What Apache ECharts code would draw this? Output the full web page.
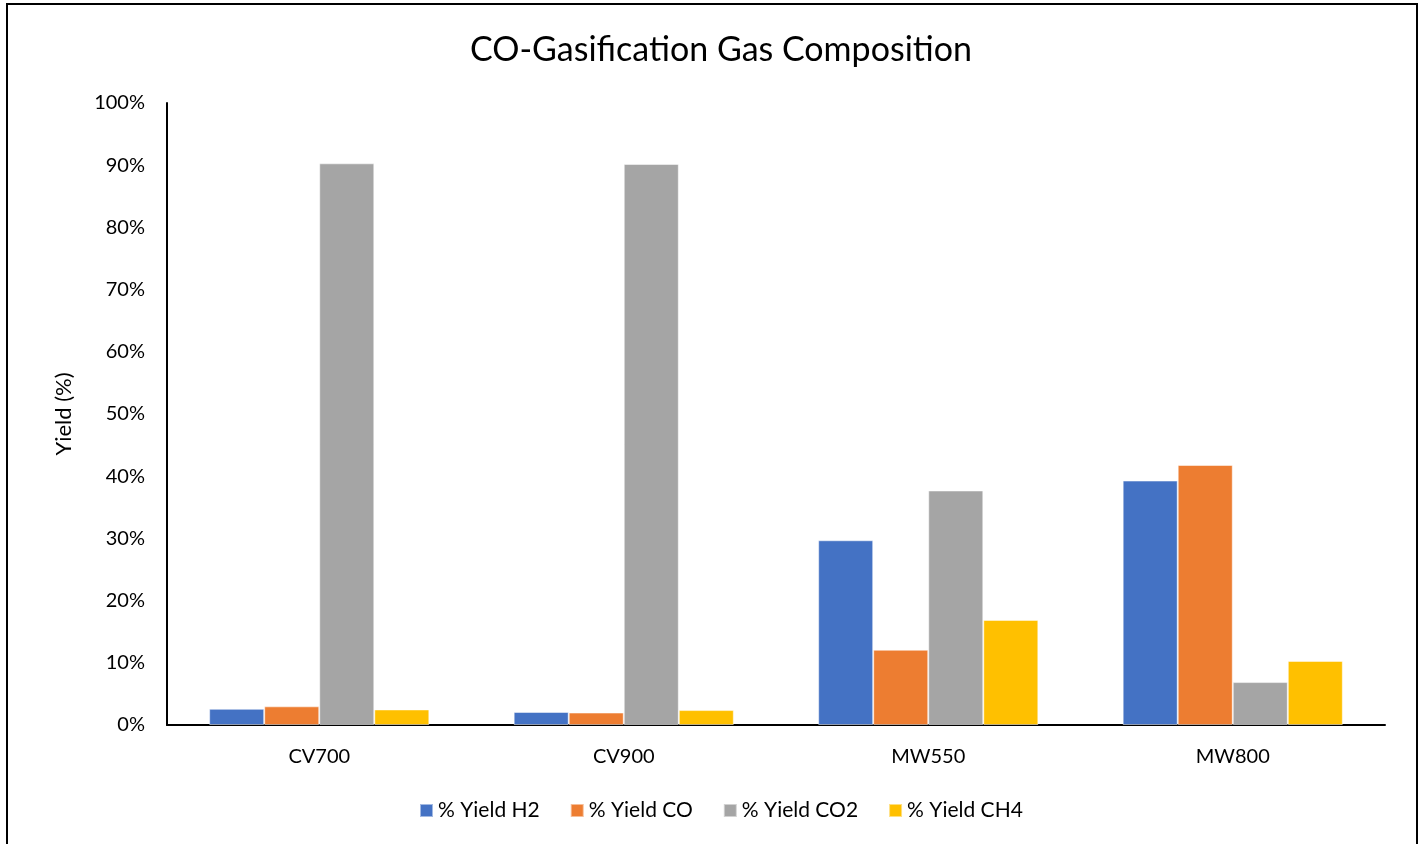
<!DOCTYPE html>
<html>
<head>
<meta charset="utf-8">
<script src="https://cdn.jsdelivr.net/npm/echarts@6/dist/echarts.min.js"></script>
<style>
  html, body { margin: 0; padding: 0; background: #fff; overflow: hidden; }
  #frame {
    position: absolute; left: 6px; top: 3px; width: 1408px; height: 900px;
    border: 2px solid #000; pointer-events: none;
  }
  #chart { width: 1419px; height: 844px; }
</style>
</head>
<body>
<div id="chart"></div>
<div id="frame"></div>
<script>
// categories and series (percent)
const categories = ["CV700", "CV900", "MW550", "MW800"];
const yieldH2 = [2.6, 2.1, 29.7, 39.3];
const yieldCO = [3.0, 2.0, 12.1, 41.8];
const yieldCO2 = [90.3, 90.2, 37.7, 6.9];
const yieldCH4 = [2.5, 2.4, 16.9, 10.3];

const seriesNames = ["% Yield H2", "% Yield CO", "% Yield CO2", "% Yield CH4"];
const seriesColors = ["#4472c4", "#ed7d31", "#a5a5a5", "#ffc000"];
const seriesData = [yieldH2, yieldCO, yieldCO2, yieldCH4];

const font = "Lato, 'Open Sans', sans-serif";

const chart = echarts.init(document.getElementById("chart"));
chart.setOption({
  animation: false,
  title: {
    text: "CO-Gasification Gas Composition",
    left: 716,
    textAlign: "center",
    top: 28,
    textStyle: { fontFamily: font, fontSize: 34, fontWeight: "normal", color: "#000" },
  },
  grid: { left: 167, right: 34, top: 103, bottom: 119 },
  legend: {
    bottom: 18,
    left: 414,
    itemWidth: 13,
    itemHeight: 13,
    itemGap: 30,
    icon: "rect",
    textStyle: { fontFamily: font, fontSize: 21, color: "#000" },
    data: seriesNames,
  },
  xAxis: {
    type: "category",
    data: categories,
    axisLine: { lineStyle: { color: "#000", width: 2 } },
    axisTick: { show: false },
    axisLabel: { fontFamily: font, fontSize: 20, color: "#000", margin: 22 },
  },
  yAxis: {
    type: "value",
    min: 0,
    max: 100,
    interval: 10,
    name: "Yield (%)",
    nameLocation: "middle",
    nameRotate: 90,
    nameGap: 92,
    nameTextStyle: { fontFamily: font, fontSize: 22, color: "#000" },
    axisLine: { show: true, lineStyle: { color: "#000", width: 2 } },
    axisTick: { show: false },
    splitLine: { show: false },
    axisLabel: { fontFamily: font, fontSize: 20, color: "#000", margin: 22, formatter: "{value}%" },
  },
  series: seriesNames.map((name, i) => ({
    name: name,
    type: "bar",
    barGap: "0%",
    barCategoryGap: "27.7%",
    itemStyle: { color: seriesColors[i], borderColor: "rgba(255,255,255,0.5)", borderWidth: 1 },
    data: seriesData[i],
  })),
});
</script>
</body>
</html>
